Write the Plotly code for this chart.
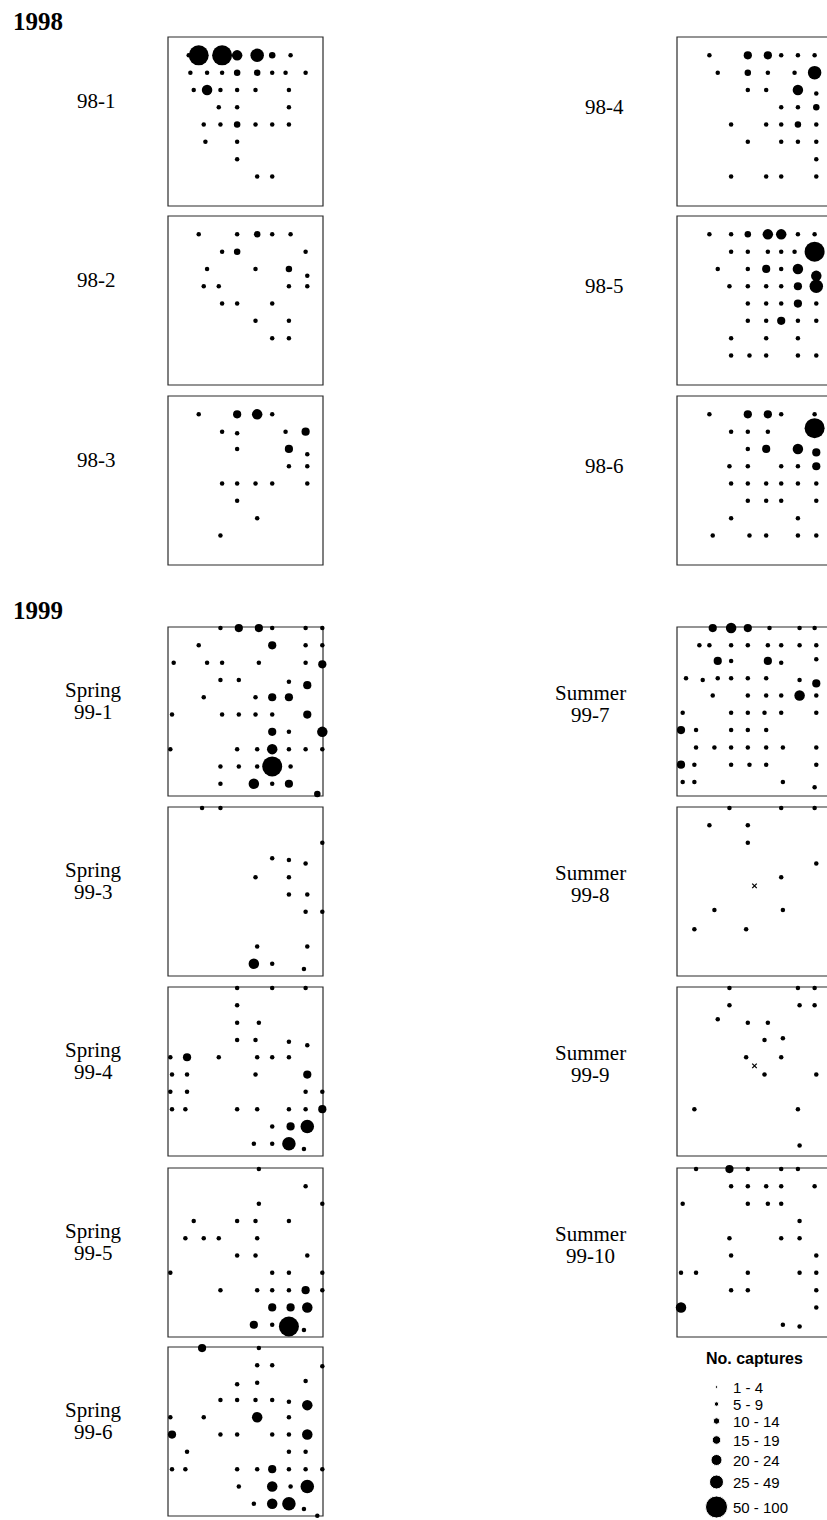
import plotly.graph_objects as go

W, H = 827, 1520

# ---------------- data: (column, row, capture class) per trapping grid ----------------
# capture classes: 1 = 1-4, 2 = 5-9, 3 = 10-14, 4 = 15-19, 5 = 20-24, 6 = 25-49, 7 = 50-100
CLASS_LABELS = ["1 - 4", "5 - 9", "10 - 14", "15 - 19", "20 - 24", "25 - 49", "50 - 100"]
CLASS_IDS = [1, 2, 3, 4, 5, 6, 7]

P98_1 = [(1.0,1,2),(1.6,1,7),(3.0,1,7),(3.9,1,5),(5.1,1,6),(6.0,1,3),(7.1,1,2),
         (1.1,2,2),(2.1,2,2),(3.0,2,2),(3.9,2,3),(5.1,2,3),(6.0,2,2),(6.8,2,2),(8.0,2,2),
         (1.3,3,2),(2.1,3,5),(2.9,3,2),(3.9,3,2),(5.0,3,2),(7.0,3,2),
         (2.8,4,2),(3.9,4,2),(7.0,4,2),
         (1.9,5,2),(2.9,5,2),(3.9,5,3),(5.0,5,2),(6.0,5,2),(7.0,5,2),
         (2.0,6,2),(3.9,6,2),
         (3.9,7,2),
         (5.1,8,2),(6.0,8,2)]
P98_2 = [(1.6,1,2),(3.9,1,2),(5.1,1,3),(6.0,1,2),(7.1,1,2),
         (3.0,2,2),(3.9,2,3),(8.0,2,2),
         (2.1,3,2),(5.0,3,2),(7.0,3,3),(8.1,3.4,2),
         (1.9,4,2),(2.8,4,2),(7.0,4,2),(8.1,4,2),
         (3.0,5,2),(3.9,5,2),(6.0,5,2),
         (5.0,6,2),(7.0,6,2),
         (6.0,7,2),(7.0,7,2)]
P98_3 = [(1.6,1,2),(3.9,1,4),(5.1,1,5),(6.0,1,2),
         (3.0,2,2),(3.9,2.1,2),(6.8,2,2),(8.0,2,4),
         (3.9,3,2),(7.0,3,4),(8.1,3.3,2),
         (7.0,4,2),(8.1,4,2),
         (3.0,5,2),(3.9,5,2),(5.0,5,2),(6.0,5,2),(8.1,5,2),
         (3.9,6,2),
         (5.1,7,2),
         (2.9,8,2)]
P98_4 = [(1.7,1,2),(4.0,1,4),(5.2,1,4),(6.0,1,2),(7.0,1,2),(8.0,1,2),
         (2.2,2,2),(4.0,2,3),(5.2,2,2),(6.8,2,2),(8.0,2,6),
         (4.0,3,2),(5.1,3,2),(7.0,3,5),(8.1,3.2,2),
         (6.0,4,2),(7.0,4,2),(8.1,4,3),
         (3.0,5,2),(5.1,5,2),(6.0,5,2),(7.0,5,3),(8.1,5,2),
         (4.0,6,2),(6.0,6,2),(7.0,6,2),(8.1,6,2),
         (8.1,7,2),
         (3.0,8,2),(5.1,8,2),(6.0,8,2),(8.1,8,2)]
P98_5 = [(1.7,1,2),(3.0,1,2),(4.0,1,3),(5.2,1,5),(6.0,1,5),(7.0,1,2),(8.0,1,2),
         (3.0,2,2),(4.0,2,2),(5.2,2,2),(6.0,2,2),(6.8,2,2),(8.0,2,7),
         (2.2,3,2),(4.0,3,2),(5.1,3,4),(6.0,3,2),(7.0,3,5),(8.1,3.4,5),
         (2.9,4,2),(4.0,4,2),(5.1,4,2),(6.0,4,2),(7.0,4,4),(8.1,4,6),
         (4.0,5,2),(5.1,5,2),(6.0,5,2),(7.0,5,4),(8.1,5,2),
         (4.0,6,2),(5.1,6,2),(6.0,6,4),(7.0,6,2),(8.1,6,2),
         (3.0,7,2),(5.1,7,2),(7.0,7,2),
         (3.0,8,2),(4.1,8,2),(5.1,8,2),(7.0,8,2),(8.1,8,2)]
P98_6 = [(1.7,1,2),(4.0,1,4),(5.2,1,4),(6.0,1,2),(8.0,1,2),
         (3.0,2,2),(4.0,2,2),(5.2,2,2),(8.0,1.8,7),
         (4.0,3,2),(5.1,3,4),(7.0,3,5),(8.1,3.2,4),
         (2.9,4,2),(4.0,4,2),(6.0,4,2),(7.0,4,2),(8.1,4,4),
         (3.0,5,2),(4.0,5,2),(5.1,5,2),(6.0,5,2),(7.0,5,2),(8.1,5,2),
         (4.0,6,2),(5.1,6,2),(6.0,6,2),(8.1,6,2),
         (3.0,7,2),(7.0,7,2),
         (1.9,8,2),(4.1,8,2),(5.1,8,2),(7.0,8,2),(8.1,8,2)]
P99_1 = [(2.9,0,2),(4.0,0,4),(5.2,0,4),(6.0,0,2),(8.0,0,2),(9.0,0,2),
         (1.6,1,2),(6.0,1,4),(8.0,1,2),(9.0,1,2),
         (0.1,2,2),(2.1,2,2),(3.0,2,2),(5.2,2,2),(8.0,2,2),(9.0,2.1,4),
         (2.9,3,2),(4.0,3,2),(7.0,3.1,2),(8.1,3.3,4),(9.1,3.3,4),
         (1.9,4,2),(5.0,4,2),(6.0,4,4),(7.0,4,4),(9.1,4,4),
         (0.0,5,2),(3.0,5,2),(4.0,5,2),(5.0,5,2),(6.0,5,2),(8.1,5,4),
         (6.0,6,4),(7.0,6,2),(9.0,6,5),
         (-0.1,7,2),(3.9,7,2),(5.1,7,2),(6.0,7,5),(7.0,7,2),(8.0,7,2),(9.0,7,2),
         (2.9,8,2),(4.0,8,2),(5.1,8,2),(6.0,8,7),(7.1,8,2),(9.1,8,2),
         (2.9,9,2),(4.9,9,5),(6.0,9,2),(7.0,9,4),
         (8.7,9.6,3)]
P99_3 = [(1.8,0,2),(2.9,0,2),
         (9.0,2,2),
         (6.0,2.9,2),(7.0,3,2),(8.0,3.2,2),(9.1,3.2,2),
         (5.0,4,2),(7.0,4,2),
         (7.0,5,2),(8.1,5,2),(9.1,5,4),
         (8.0,6,2),(9.0,6,2),
         (5.1,8,2),(8.1,8,2),(9.1,8,2),
         (4.9,9,5),(6.0,9,2),(7.9,9.3,2)]
P99_4 = [(3.9,0,2),(6.0,0,2),(8.0,0,2),
         (3.9,1,2),
         (3.9,2,2),(5.2,2,2),
         (3.9,3,2),(5.0,3,2),(7.0,3.1,2),(8.1,3.3,2),(9.1,3.3,2),
         (-0.1,4,2),(0.9,4,4),(2.8,4,2),(5.1,4,2),(6.0,4,2),(7.0,4,2),(9.1,4,2),
         (0.0,5,2),(0.9,5,2),(5.0,5,2),(8.1,5,4),(9.1,5,2),
         (-0.1,6,2),(0.9,6,2),(8.0,6,2),(9.0,6,2),
         (0.0,7,2),(0.8,7,2),(3.9,7,2),(5.1,7,2),(7.0,7,2),(8.0,7,2),(9.0,7,4),
         (6.0,8,2),(7.1,8,4),(8.1,8,6),(9.1,8,4),
         (4.9,9,2),(6.0,9,2),(7.0,9,6),(7.9,9.3,2)]
P99_5 = [(5.2,0,2),
         (8.0,1,2),
         (5.2,2,2),(9.0,2,2),
         (1.3,3,2),(3.9,3,2),(5.0,3,2),(7.0,3,2),(9.1,3.3,2),
         (0.8,4,2),(1.9,4,2),(2.8,4,2),(5.1,4,2),(9.1,4,2),
         (3.9,5,2),(5.0,5,2),(8.1,5,2),
         (-0.1,6,2),(6.0,6,2),(7.0,6,2),(9.0,6,2),
         (2.9,7,2),(5.1,7,2),(6.0,7,2),(7.0,7,2),(8.0,7,4),(9.0,7,2),
         (6.0,8,4),(7.1,8,4),(8.1,8,5),(9.1,8,4),
         (4.9,9,4),(6.0,9,2),(7.0,9.1,7),(7.9,9.3,2)]
P99_6 = [(1.8,0,4),(5.2,0,2),
         (5.1,1,2),(6.0,1,2),(9.0,1.05,2),
         (3.9,2.1,2),(5.1,2,2),(8.0,1.9,2),
         (2.9,3,2),(3.9,3,2),(5.0,3,2),(6.0,3,2),(7.0,3.1,2),(8.1,3.3,5),
         (-0.1,4,2),(1.9,4,2),(5.1,4,5),(7.0,4,2),
         (0.0,5,4),(2.9,5,2),(3.9,5,2),(6.0,5,2),(7.0,5,2),(8.1,5,5),(9.1,5,2),
         (0.9,6,2),(7.0,6,2),(8.0,6,2),
         (0.0,7,2),(0.8,7,2),(3.9,7,2),(5.1,7,2),(6.0,7,4),(7.0,7,2),(8.0,7,2),(9.0,7,2),
         (4.0,8,2),(6.0,8,5),(7.1,8,2),(8.1,8,6),(9.1,8,2),
         (4.9,9,2),(6.0,9,5),(7.0,9,6),(7.9,9.3,2),
         (8.7,9.7,2)]
P99_7 = [(1.9,0,4),(3.0,0,5),(4.0,0,4),(5.3,0,2),(7.1,0,2),(8.0,0,2),
         (1.1,1,2),(1.7,1,2),(3.0,1,2),(4.0,1,2),(5.2,1,2),(6.0,1,2),(7.1,1,2),(8.1,1,2),
         (2.2,1.9,4),(3.0,1.9,2),(5.2,1.9,4),(6.0,2,2),(8.1,1.8,2),
         (0.3,2.9,2),(1.3,3,2),(2.2,2.9,2),(3.0,2.9,2),(4.0,2.9,2),(5.1,2.9,2),(7.1,3,2),(8.1,3.2,4),
         (1.9,3.9,2),(4.0,3.9,2),(5.1,3.9,2),(6.0,3.9,2),(7.1,3.9,5),(8.1,3.9,2),
         (0.1,4.9,2),(3.0,4.9,2),(4.0,4.9,2),(5.0,4.9,2),(6.0,4.9,2),(8.1,4.9,2),
         (0.0,5.9,4),(0.9,5.9,2),(3.0,5.9,2),(4.0,5.9,2),(5.1,5.9,2),
         (0.9,6.9,2),(2.0,6.9,2),(3.0,6.9,2),(4.0,6.9,2),(5.1,6.9,2),(6.1,6.9,2),(8.1,6.9,2),
         (0.0,7.9,4),(0.8,7.9,2),(3.0,7.9,2),(4.1,7.9,2),(5.1,7.9,2),(8.1,7.9,2),
         (0.1,8.9,2),(0.8,8.9,2),(6.1,8.9,2),(8.0,9.2,2)]
P99_8 = [(2.9,0,2),(6.0,0,2),(8.0,0,2),
         (1.7,1,2),(4.0,1,2),
         (4.0,2,2),
         (8.1,3.2,2),
         (6.0,4,2),
         (2.0,5.9,2),(6.1,5.9,2),
         (0.8,7,2),(3.9,7,2)]
P99_8_X = [(4.4,4.5)]
P99_9 = [(2.9,0,2),(7.0,0,2),(8.0,0,2),
         (2.9,1,2),(7.1,1,2),(8.0,1,2),
         (2.2,1.8,2),(4.0,2,2),(5.2,2,2),
         (5.0,3,2),(6.1,2.9,2),
         (3.9,4,2),(6.0,4,2),
         (5.0,5,2),(8.1,5,2),
         (0.8,7,2),(7.0,7,2),
         (7.1,9.1,2)]
P99_9_X = [(4.4,4.5)]
P99_10 = [(0.9,0,2),(2.9,0,4),(4.0,0,2),(6.0,0,2),(7.0,0,2),
          (3.0,1,2),(4.0,1,2),(5.1,1,2),(6.0,1,2),(8.0,1,2),
          (0.1,2,2),(4.0,2,2),(5.2,2,2),(6.0,2,2),
          (7.1,3,2),
          (2.9,4,2),(6.0,4,2),(7.1,4,2),
          (3.0,5,2),(8.1,5,2),
          (0.0,6,2),(0.9,6,2),(4.0,6,2),(7.1,6,2),(8.1,6,2),
          (3.0,7,2),(4.0,7,2),(8.1,7,2),
          (0.0,8,5),(8.1,8,2),
          (6.1,9,2),(7.1,9.1,2)]

PANEL_NAMES = ["98-1", "98-2", "98-3", "98-4", "98-5", "98-6",
               "99-1", "99-3", "99-4", "99-5", "99-6",
               "99-7", "99-8", "99-9", "99-10"]
PANEL_SEASON = ["", "", "", "", "", "",
                "Spring", "Spring", "Spring", "Spring", "Spring",
                "Summer", "Summer", "Summer", "Summer"]
PANEL_DATA = [P98_1, P98_2, P98_3, P98_4, P98_5, P98_6,
              P99_1, P99_3, P99_4, P99_5, P99_6,
              P99_7, P99_8, P99_9, P99_10]
PANEL_X = {"99-8": P99_8_X, "99-9": P99_9_X}
YEAR_LABELS = ["1998", "1999"]

# ---------------- layout / styling ----------------
CLASS_SIZE = {1: 2.5, 2: 4.5, 3: 6.5, 4: 8.2, 5: 10.5, 6: 13.5, 7: 20}
LEGEND_SIZE = {1: 2.5, 2: 4.5, 3: 6.5, 4: 8.5, 5: 11, 6: 14, 7: 22}
PANEL_W, PANEL_H = 155, 169
COL_UNIT = 16.7
ROW_UNIT = 17.3
LEFT_X0, RIGHT_X0 = 168, 677
TOPS_98 = [37, 216, 396]
TOPS_99 = [627, 807, 987, 1168, 1347]

# (left px, top px, label centre x, label centre y)
geom = []
for t in TOPS_98:
    geom.append((LEFT_X0, t, 96, t + 64))
for t in TOPS_98:
    geom.append((RIGHT_X0, t, 604, t + 70))
for t in TOPS_99:
    geom.append((LEFT_X0, t, 93, t + 74))
for t in TOPS_99[:4]:
    geom.append((RIGHT_X0, t, 590, t + 77))

SERIF = "Liberation Serif, Times New Roman, serif"
SANS = "Liberation Sans, Arial, sans-serif"
LABEL_SIZE = 21
LINE_GAP = 22

fig = go.Figure()
shapes, annotations = [], []
layout_axes = {}


def px_ann(x, y, text, size, family, xanchor="center"):
    return dict(x=x / W, y=1 - y / H, xref="paper", yref="paper", text=text,
                showarrow=False, xanchor=xanchor, yanchor="middle", borderpad=0,
                font=dict(family=family, size=size, color="black"))


for i, (name, season, data, g) in enumerate(zip(PANEL_NAMES, PANEL_SEASON, PANEL_DATA, geom), start=1):
    x0, top, lx, ly = g
    x1_vis = min(x0 + PANEL_W, W)
    vis_w = x1_vis - x0
    xr = [-0.24, -0.24 + vis_w / COL_UNIT]
    yr = [-0.06 + PANEL_H / ROW_UNIT, -0.06]
    xa = "xaxis" if i == 1 else f"xaxis{i}"
    ya = "yaxis" if i == 1 else f"yaxis{i}"
    xref = "x" if i == 1 else f"x{i}"
    yref = "y" if i == 1 else f"y{i}"
    layout_axes[xa] = dict(domain=[x0 / W, x1_vis / W], range=xr, visible=False, fixedrange=True)
    layout_axes[ya] = dict(domain=[1 - (top + PANEL_H) / H, 1 - top / H], range=yr,
                           visible=False, fixedrange=True)
    fig.add_trace(go.Scatter(x=[d[0] for d in data], y=[d[1] for d in data], mode="markers",
                             xaxis=xref, yaxis=yref,
                             marker=dict(size=[CLASS_SIZE[d[2]] for d in data], color="black",
                                         opacity=1, line=dict(width=0)),
                             cliponaxis=False, hoverinfo="skip"))
    if name in PANEL_X:
        xx = PANEL_X[name]
        fig.add_trace(go.Scatter(x=[p[0] for p in xx], y=[p[1] for p in xx], mode="markers",
                                 xaxis=xref, yaxis=yref,
                                 marker=dict(symbol="x-thin", size=4.5, opacity=1,
                                             line=dict(width=1.3, color="black")),
                                 cliponaxis=False, hoverinfo="skip"))
    shapes.append(dict(type="rect", xref="paper", yref="paper",
                       x0=x0 / W, x1=(x0 + PANEL_W) / W,
                       y0=1 - (top + PANEL_H) / H, y1=1 - top / H,
                       line=dict(color="#2b2b2b", width=1.2), layer="below"))
    if season:
        annotations.append(px_ann(lx, ly - LINE_GAP / 2, season, LABEL_SIZE, SERIF))
        annotations.append(px_ann(lx, ly + LINE_GAP / 2, name, LABEL_SIZE, SERIF))
    else:
        annotations.append(px_ann(lx, ly, name, LABEL_SIZE, SERIF))

# year headings
annotations.append(px_ann(12, 21, f"<b>{YEAR_LABELS[0]}</b>", 25, SERIF, "left"))
annotations.append(px_ann(12, 610, f"<b>{YEAR_LABELS[1]}</b>", 25, SERIF, "left"))

# size-class legend drawn on its own axis (pixel-like coordinates)
LEG_X0, LEG_Y0, LEG_W, LEG_H = 690, 1345, 137, 175
li = len(PANEL_NAMES) + 1
leg_rows = [42, 59, 76, 95, 115, 137, 162]
layout_axes[f"xaxis{li}"] = dict(domain=[LEG_X0 / W, 1.0], range=[0, LEG_W], visible=False, fixedrange=True)
layout_axes[f"yaxis{li}"] = dict(domain=[1 - (LEG_Y0 + LEG_H) / H, 1 - LEG_Y0 / H], range=[LEG_H, 0],
                                 visible=False, fixedrange=True)
fig.add_trace(go.Scatter(x=[26.5] * len(CLASS_IDS), y=leg_rows[:len(CLASS_IDS)], mode="markers",
                         xaxis=f"x{li}", yaxis=f"y{li}",
                         marker=dict(size=[LEGEND_SIZE[c] for c in CLASS_IDS], color="black", opacity=1),
                         cliponaxis=False, hoverinfo="skip"))
for lab, yy in zip(CLASS_LABELS, leg_rows):
    annotations.append(px_ann(LEG_X0 + 42, LEG_Y0 + yy, lab, 15, SANS, "left"))
annotations.append(px_ann(754, LEG_Y0 + 13, "<b>No. captures</b>", 16, SANS))

fig.update_layout(width=W, height=H, margin=dict(l=0, r=0, t=0, b=0),
                  paper_bgcolor="white", plot_bgcolor="white", showlegend=False,
                  shapes=shapes, annotations=annotations, **layout_axes)
fig.write_html("out.html", config={"displayModeBar": False, "staticPlot": True},
               post_script="document.body.style.margin='0';document.body.style.overflow='hidden';")
